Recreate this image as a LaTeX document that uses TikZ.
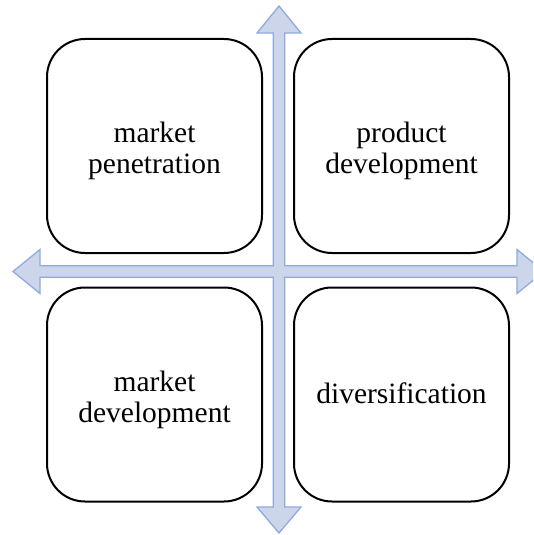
\documentclass[tikz,border=0pt]{standalone}
\usepackage{fontspec}
\setmainfont{Liberation Serif}
\definecolor{arrfill}{RGB}{205,213,235}
\definecolor{arrline}{RGB}{143,170,220}
\begin{document}
\begin{tikzpicture}[x=1pt,y=-1pt,
  quad/.style={draw=black,line width=2pt,rounded corners=38pt,minimum width=215pt,minimum height=214pt,inner sep=0pt},
  lbl/.style={align=center,font=\fontsize{29.5}{31}\selectfont,inner sep=0pt},
  cross/.style={fill=arrfill,draw=arrline,line width=1.3pt,line join=miter}]
\useasboundingbox (0,0) rectangle (533,535);
\clip (0,0) rectangle (533,535);
\node[quad] (tl) at (154.5,146) {};
\node[quad] (tr) at (401.5,146) {};
\node[quad] (bl) at (154.5,394.5) {};
\node[quad] (br) at (401.5,394.5) {};
\node[lbl,yshift=-5pt] (tlt) at (tl.center) {market\\penetration};
\node[lbl,yshift=-5pt] (trt) at (tr.center) {product\\development};
\node[lbl,yshift=-5pt] (blt) at (bl.center) {market\\development};
\node[lbl,yshift=1pt] (brt) at (br.center) {diversification};
\path[cross] (279,6) -- (301,33) -- (284.75,33) -- (284.75,265.75) -- (517,265.75) -- (517,249.5) -- (544,271.5) -- (517,293.5) -- (517,277.25) -- (284.75,277.25) -- (284.75,507) -- (301,507) -- (279,533) -- (257,507) -- (273.25,507) -- (273.25,277.25) -- (40,277.25) -- (40,293.5) -- (13,271.5) -- (40,249.5) -- (40,265.75) -- (273.25,265.75) -- (273.25,33) -- (257,33) -- cycle;
\end{tikzpicture}
\end{document}
